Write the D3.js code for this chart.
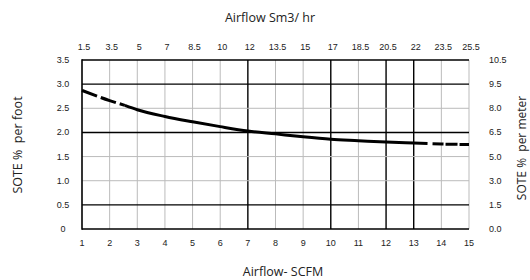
<!DOCTYPE html>
<meta charset="utf-8">
<script src="https://cdn.jsdelivr.net/npm/d3@7"></script>
<style>
	body{margin:0;background:#fff;}
	.tick{font-family:"Liberation Sans",Arial,sans-serif;font-size:9px;fill:#222;}
	.title{font-family:"Open Sans",sans-serif;font-size:12.5px;fill:#222;white-space:pre;}
</style>
<div id="chart"></div>
<script>
// bottom axis (SCFM) and matching top labels (Sm3/hr)
var scfm = [1,2,3,4,5,6,7,8,9,10,11,12,13,14,15]
var sm3Labels = ["1.5","3.5","5","7","8.5","10","12","13.5","15","17","18.5","20.5","22","23.5","25.5"]
// left axis (per foot) and right labels (per meter)
var perFoot = [0,0.5,1.0,1.5,2.0,2.5,3.0,3.5]
var perFootLabels = ["0","0.5","1.0","1.5","2.0","2.5","3.0","3.5"]
var perMeterLabels = ["0.0","1.5","3.0","5.0","6.5","8.0","9.5","10.5"]
// heavy grid lines
var heavyX = [7,10,12,13]
var heavyY = [0.5,2.0,3.0,3.5]

// SOTE curve
var curveX = [1,2,2.55,3,4,5,6,7,8,9,10,11,12,13,13.5,14,15]
var curveY = [2.87,2.66,2.56,2.47,2.33,2.22,2.12,2.03,1.97,1.91,1.86,1.83,1.80,1.78,1.77,1.76,1.75]
var solidFrom = 2.55, solidTo = 13.5

var width = 530, height = 280
var pLeft = 82, pRight = 469, pTop = 60, pBottom = 229

var svg = d3.select("#chart").append("svg")
	.attr("width",width).attr("height",height)

var x = d3.scaleLinear().domain([1,15]).range([pLeft,pRight])
var y = d3.scaleLinear().domain([0,3.5]).range([pBottom,pTop])

// grid
svg.append("g").selectAll("line")
	.data(scfm.slice(1))
	.enter().append("line")
	.attr("x1",d=>x(d)).attr("x2",d=>x(d))
	.attr("y1",pTop).attr("y2",pBottom)
	.attr("stroke",d=>heavyX.indexOf(d)>-1?"#000":"#bbb")
	.attr("stroke-width",d=>heavyX.indexOf(d)>-1?1.4:1)

svg.append("g").selectAll("line")
	.data(perFoot.slice(1))
	.enter().append("line")
	.attr("x1",pLeft).attr("x2",pRight)
	.attr("y1",d=>y(d)).attr("y2",d=>y(d))
	.attr("stroke",d=>heavyY.indexOf(d)>-1?"#000":"#bbb")
	.attr("stroke-width",d=>heavyY.indexOf(d)>-1?1.4:1)

// frame: left and bottom
svg.append("line").attr("x1",pLeft).attr("x2",pLeft).attr("y1",pTop-0.7).attr("y2",pBottom+0.7)
	.attr("stroke","#000").attr("stroke-width",1.6)
svg.append("line").attr("x1",pLeft).attr("x2",pRight).attr("y1",pBottom).attr("y2",pBottom)
	.attr("stroke","#000").attr("stroke-width",1.6)

// tick labels
svg.append("g").selectAll("text").data(scfm).enter().append("text")
	.attr("class","tick").attr("text-anchor","middle")
	.attr("x",d=>x(d)).attr("y",246).text(d=>d)
svg.append("g").selectAll("text").data(scfm).enter().append("text")
	.attr("class","tick").attr("text-anchor","middle")
	.attr("x",d=>x(d)+2).attr("y",50).text((d,i)=>sm3Labels[i])
svg.append("g").selectAll("text").data(perFoot).enter().append("text")
	.attr("class","tick").attr("text-anchor","middle")
	.attr("x",63).attr("y",d=>y(d)+3).text((d,i)=>perFootLabels[i])
svg.append("g").selectAll("text").data(perFoot).enter().append("text")
	.attr("class","tick").attr("text-anchor","start")
	.attr("x",489).attr("y",d=>y(d)+3).text((d,i)=>perMeterLabels[i])

// titles
svg.append("text").attr("class","title").attr("text-anchor","middle")
	.attr("x",270).attr("y",22).text("Airflow Sm3/ hr")
svg.append("text").attr("class","title").attr("text-anchor","middle")
	.attr("x",283).attr("y",276).text("Airflow- SCFM")
svg.append("text").attr("class","title").attr("text-anchor","middle")
	.attr("transform","translate(22,145) rotate(-90)").text("SOTE %  per foot")
svg.append("text").attr("class","title").attr("text-anchor","middle")
	.style("font-size","12px")
	.attr("transform","translate(526,148) rotate(-90)").text("SOTE %  per meter")

// curve
var pts = curveX.map((d,i)=>[d,curveY[i]])
var line = d3.line().x(d=>x(d[0])).y(d=>y(d[1])).curve(d3.curveMonotoneX)

svg.append("path").datum(pts.filter(d=>d[0]<=solidFrom))
	.attr("d",line).attr("fill","none").attr("stroke","#000")
	.attr("stroke-width",3).attr("stroke-dasharray","16,4")
svg.append("path").datum(pts.filter(d=>d[0]>=solidFrom && d[0]<=solidTo))
	.attr("d",line).attr("fill","none").attr("stroke","#000")
	.attr("stroke-width",3)
svg.append("path").datum(pts.filter(d=>d[0]>=solidTo))
	.attr("d",line).attr("fill","none").attr("stroke","#000")
	.attr("stroke-width",3).attr("stroke-dasharray","0,5,11,2,12,2,11")
</script>
